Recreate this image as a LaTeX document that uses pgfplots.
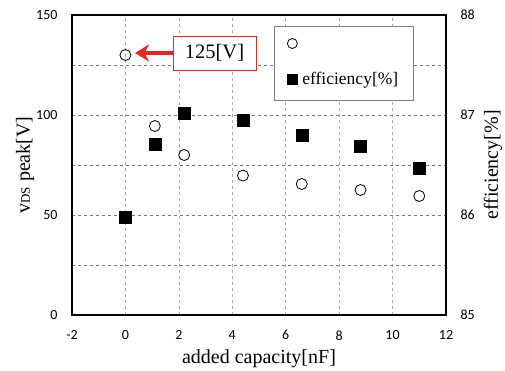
\documentclass[border=0pt]{standalone}
\usepackage{pgfplots}
\pgfplotsset{compat=1.18}
\usepackage{fontspec}
\setmainfont{Liberation Serif}
\newfontfamily\tickfont{Carlito}
\usetikzlibrary{arrows.meta}
\definecolor{annred}{RGB}{232,36,36}
\definecolor{gridgray}{RGB}{120,120,120}

\begin{document}
\begin{tikzpicture}
\path[use as bounding box] (-72pt,-55pt) rectangle (433pt,315pt);
\begin{axis}[
  scale only axis, width=374pt, height=300pt,
  xmin=-2, xmax=12, ymin=0, ymax=150,
  xtick={-2,0,...,12}, ytick={0,50,100,150}, minor ytick={25,75,125},
  xmajorgrids, ymajorgrids, yminorgrids,
  major tick length=0pt, minor tick length=0pt,
  axis line style={line width=1.2pt},
  x grid style={dashed, gray!65, line width=0.7pt},
  y grid style={dashed, gridgray, line width=0.7pt},
  minor y grid style={dashed, gridgray, line width=0.7pt},
  tick label style={font=\tickfont\fontsize{14}{14}\selectfont},
  xticklabel style={yshift=-12pt},
  yticklabel style={xshift=-11pt},
  /pgf/number format/assume math mode=true,
  xlabel={added capacity[nF]},
  ylabel={v{\fontsize{13}{13}\selectfont DS} peak[V]},
  label style={font=\fontsize{20}{22}\selectfont},
  xlabel style={at={(axis description cs:0.5,-0.147)}, anchor=center},
  ylabel style={at={(axis description cs:-0.1257,0.5)}, anchor=center},
  clip=false,
]
\addplot[only marks, mark=o, mark size=5.5pt, line width=0.8pt] coordinates {(0,130)(1.1,94.5)(2.2,80)(4.4,69.7)(6.6,65.5)(8.8,62.5)(11,59.5)};
\node[draw=annred, fill=white, line width=0.8pt, inner xsep=12pt, minimum height=34pt, font=\fontsize{20.5}{22}\selectfont] (ann) at (axis cs:3.335,131) {125[V]};
\draw[annred, line width=3.5pt, -{Stealth[length=14pt,width=17pt]}] (ann.west) -- (axis cs:0.36,131);
\end{axis}
\begin{axis}[
  scale only axis, width=374pt, height=300pt,
  xmin=-2, xmax=12, ymin=85, ymax=88,
  axis x line=none, axis y line*=right,
  ytick={85,86,87,88},
  major tick length=0pt,
  axis line style={line width=1.2pt},
  tick label style={font=\tickfont\fontsize{14}{14}\selectfont},
  yticklabel style={xshift=11pt},
  /pgf/number format/assume math mode=true,
  ylabel={efficiency[\%]},
  label style={font=\fontsize{20}{22}\selectfont},
  ylabel style={at={(axis description cs:1.1257,0.5)}, anchor=center},
  legend image code/.code={\draw[#1] plot coordinates {(0pt,0pt)};},
  legend style={at={(axis description cs:0.540,0.963)}, anchor=north west,
    draw=gray, fill=white, line width=0.8pt,
    inner xsep=13pt, inner ysep=12pt, row sep=22pt, column sep=3pt,
    font=\fontsize{17.5}{19}\selectfont},
  legend cell align=left,
]
\addlegendimage{only marks, mark=o, mark size=5pt, line width=0.8pt, black}
\addlegendentry{}
\addplot[only marks, mark=square*, mark size=6pt, black, legend image post style={mark size=5pt}] coordinates {(0,85.98)(1.1,86.71)(2.2,87.02)(4.4,86.95)(6.6,86.80)(8.8,86.69)(11,86.47)};
\addlegendentry{efficiency[\%]}
\end{axis}
\end{tikzpicture}
\end{document}
